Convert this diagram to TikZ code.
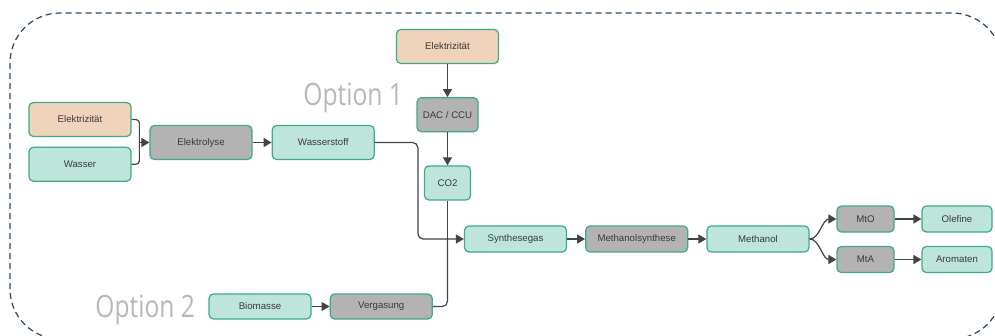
\documentclass[tikz,border=0pt]{standalone}
\usepackage{fontspec}
\setmainfont{Liberation Sans}
\newfontfamily\optfont{Open Sans}
\usepackage{graphicx}
\usetikzlibrary{arrows.meta,positioning,calc}
\definecolor{feedfill}{HTML}{BDE5DC}
\definecolor{powfill}{HTML}{EFD3BB}
\definecolor{procfill}{HTML}{B3B3B3}
\definecolor{boxline}{HTML}{3DAA8A}
\definecolor{linec}{HTML}{444444}
\definecolor{txt}{HTML}{3A3A3A}
\definecolor{framec}{HTML}{2D4A60}
\definecolor{optc}{HTML}{B8B8B8}
\tikzset{
  box/.style={draw=boxline, line width=0.7pt, rounded corners=2.5pt, minimum width=20.4mm,
              minimum height=6.8mm, inner sep=0pt, align=center, text=txt,
              font=\fontsize{5.5}{6}\selectfont},
  feed/.style={box, fill=feedfill},
  power/.style={box, fill=powfill},
  proc/.style={box, fill=procfill},
  flat/.style={minimum height=5.2mm},
  arr/.style={-{Triangle[length=1.6mm, width=1.8mm]}, line width=0.7pt, draw=linec},
  lnk/.style={line width=0.7pt, draw=linec, rounded corners=2pt},
  optlbl/.style={inner sep=0pt, text=optc, font=\optfont\fontsize{17.5}{18}\selectfont},
  frame/.style={draw=framec, line width=0.7pt, dash pattern=on 1.2mm off 0.8mm, rounded corners=10mm}
}

\begin{document}
\begin{tikzpicture}[x=0.2mm, y=-0.2mm, node distance=3.6mm]
  \useasboundingbox (0,0) rectangle (995,335);
  \clip (0,0) rectangle (995,335);
  \draw[frame] (10,13) rectangle (1002,339);

  % Option 1: Strom + Wasser / CO2
  \node[power] (el1) at (80,119.5) {Elektrizität};
  \node[feed, below=1.9mm of el1] (wasser) {Wasser};
  \node[proc] (elyse) at (201,142.5) {Elektrolyse};
  \node[feed, right=3.8mm of elyse] (h2) {Wasserstoff};
  \node[power] (el2) at (447.5,46.5) {Elektrizität};
  \node[proc, minimum width=12.2mm, below=6.6mm of el2] (dac) {DAC / CCU};
  \node[feed, minimum width=9.2mm, below=6.6mm of dac] (co2) {CO2};

  % Syntheseweg
  \node[feed, flat] (syn) at (515.5,239) {Synthesegas};
  \node[proc, flat, right=of syn] (mesyn) {Methanolsynthese};
  \node[feed, flat, right=of mesyn] (meoh) {Methanol};
  \node[proc, flat, minimum width=11.4mm] (mto) at (865.5,219) {MtO};
  \node[proc, flat, minimum width=11.4mm] (mta) at (865.5,259.5) {MtA};
  \node[feed, flat, minimum width=14mm] (olef) at (957,219) {Olefine};
  \node[feed, flat, minimum width=14mm] (arom) at (957,259.5) {Aromaten};

  % Option 2: Biomasse
  \node[feed, flat, minimum height=5mm] (bio) at (260,306.5) {Biomasse};
  \node[proc, flat, minimum height=5mm, right=of bio] (verg) {Vergasung};

  \node[optlbl, anchor=base west] (opt1) at (303,105) {\scalebox{0.8}[1]{Option 1}};
  \node[optlbl, anchor=base west] (opt2) at (95,317) {\scalebox{0.8}[1]{Option 2}};

  \coordinate (jn) at ($(elyse.west)+(-10,0)$);
  \coordinate (syncol) at ($(syn.west)+(-46,0)$);
  \coordinate (co2col) at (co2.south |- syn.west);

  \draw[lnk] (el1.east) -| (jn);
  \draw[lnk] (wasser.east) -| (jn);
  \draw[arr] (jn) -- (elyse.west);
  \draw[arr] (elyse) -- (h2);
  \draw[arr, rounded corners=3pt] (h2.east) -| (syncol) -- (syn.west);
  \draw[arr] (el2) -- (dac);
  \draw[arr] (dac) -- (co2);
  \draw[lnk] (co2.south) -- (co2col);
  \draw[lnk, rounded corners=3pt] (verg.east) -| (co2col);
  \draw[arr] (bio) -- (verg);
  \draw[arr] (syn) -- (mesyn);
  \draw[arr] (mesyn) -- (meoh);
  \draw[arr] (meoh.east) .. controls +(10,0) and +(-14,0) .. (mto.west);
  \draw[arr] (meoh.east) .. controls +(10,0) and +(-14,0) .. (mta.west);
  \draw[arr] (mto) -- (olef);
  \draw[arr] (mta) -- (arom);
\end{tikzpicture}
\end{document}
